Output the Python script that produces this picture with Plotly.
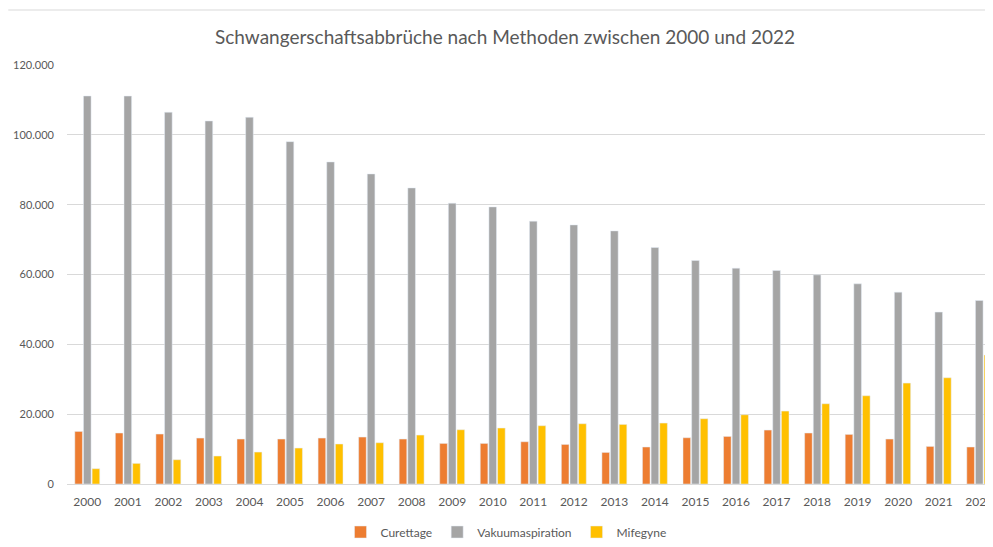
import plotly.graph_objects as go

years = [str(y) for y in range(2000, 2023)]
curettage = [15050, 14600, 14310, 13160, 12880, 12880, 13160, 13450, 12880, 11620,
             11620, 12100, 11330, 9040, 10590, 13250, 13620, 15450, 14600, 14200,
             12880, 10760, 10590]
vakuum = [111130, 111100, 106470, 103970, 105030, 98050, 92240, 88800, 84800, 80420,
          79360, 75270, 74200, 72490, 67720, 64000, 61810, 61140, 59900, 57330,
          54950, 49230, 52550]
mifegyne = [4380, 5900, 6950, 8010, 9150, 10300, 11450, 11820, 14020, 15540,
            16030, 16690, 17260, 17060, 17460, 18690, 19830, 20890, 22980, 25270,
            28910, 30420, 36920]
y_ticks = [0, 20000, 40000, 60000, 80000, 100000, 120000]

FONT = "Lato"
TXT = "#595959"
W, H = 985, 539

fig = go.Figure()
fig.add_bar(x=years, y=curettage, name="Curettage", marker_color="#ED7D31")
fig.add_bar(x=years, y=vakuum, name="Vakuumaspiration", marker_color="#A5A5A5")
fig.add_bar(x=years, y=mifegyne, name="Mifegyne", marker_color="#FFC000")

fig.update_layout(
    width=W, height=H,
    margin=dict(l=59, r=0, t=57, b=63),
    paper_bgcolor="white", plot_bgcolor="white",
    barmode="group", bargap=0.36, bargroupgap=0.12,
    separators=",.",
    font=dict(family=FONT, color=TXT, size=11),
    title=dict(text="Schwangerschaftsabbrüche nach Methoden zwischen 2000 und 2022",
               x=497 / W, xref="container", xanchor="center",
               y=1 - 29 / H, yref="container", yanchor="middle",
               font=dict(family=FONT, size=19, color=TXT)),
    legend=dict(orientation="h", x=498 / W, xanchor="center", xref="container",
                y=1 - 524 / H, yref="container", yanchor="middle",
                font=dict(size=12, color=TXT), itemwidth=30,
                traceorder="normal"),
    showlegend=True,
)
fig.update_xaxes(type="category", range=[-0.5, 22.24], showgrid=False,
                 showline=True, linecolor="#d9d9d9", linewidth=1,
                 ticks="", ticklabelstandoff=7,
                 tickfont=dict(size=12, color=TXT), fixedrange=True)
fig.update_yaxes(range=[0, 120000], tickvals=y_ticks, tickformat=",d",
                 showgrid=True, gridcolor="#d9d9d9", gridwidth=1,
                 zeroline=False, showline=False, ticks="",
                 ticklabelstandoff=12,
                 tickfont=dict(size=11, color=TXT), fixedrange=True)
fig.add_shape(type="line", xref="paper", yref="paper",
              x0=-59 / 926, x1=1, y0=(476 - 2) / 419, y1=(476 - 2) / 419,
              line=dict(color="#d9d9d9", width=1))

fig.write_html("out.html")
